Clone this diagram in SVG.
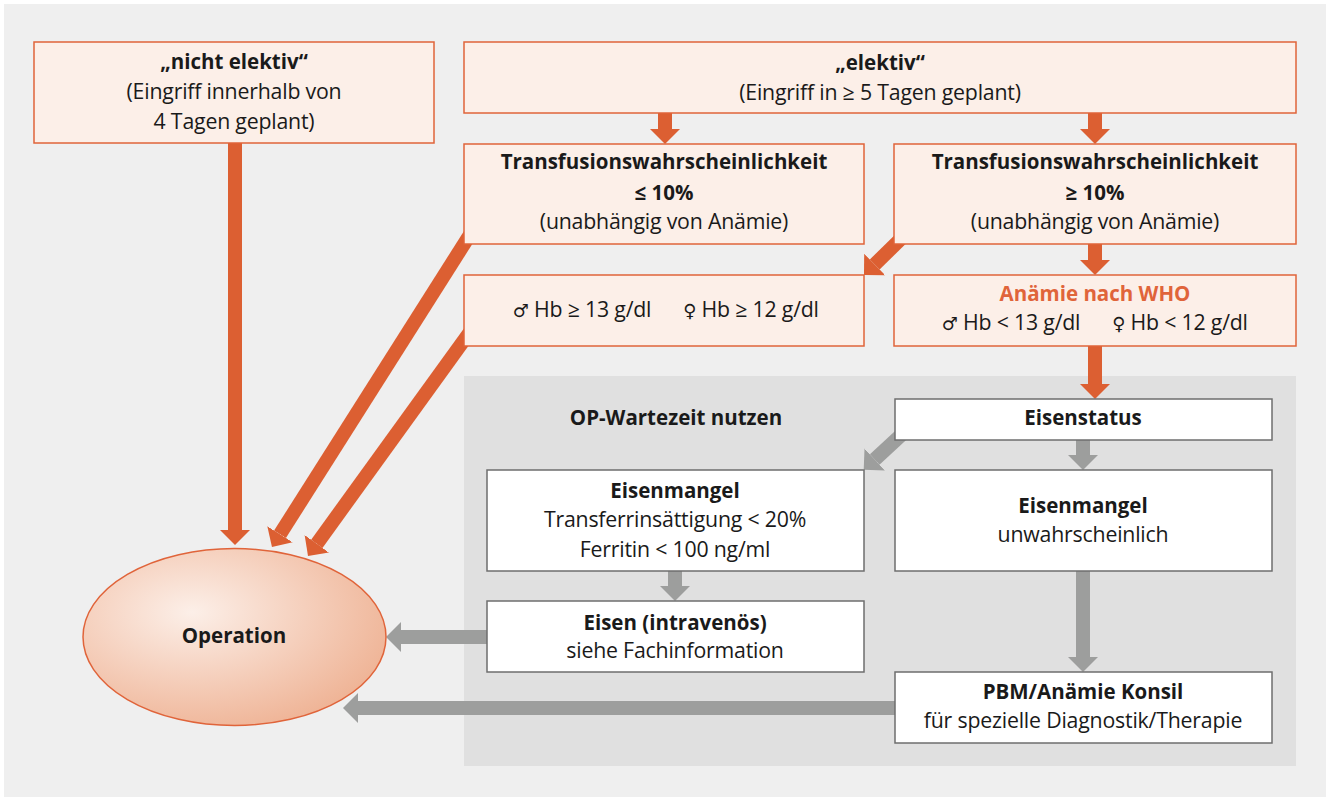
<svg xmlns="http://www.w3.org/2000/svg" width="1330" height="801" viewBox="0 0 1330 801">
<defs>
<style>
.ob{fill:#fcefe8;stroke:#e0643a;stroke-width:1.5}
.wb{fill:#ffffff;stroke:#6e6e6e;stroke-width:1.5}
text{font-family:"Open Sans","Noto Sans",sans-serif;font-size:21.3px;fill:#1a1a1a;text-anchor:middle;letter-spacing:-0.2px}
.b{font-weight:bold;font-size:20.5px;letter-spacing:0}
.or{fill:#e0643a}
.sym{font-family:"DejaVu Sans",sans-serif;font-size:18px}
.oa{stroke:#dc5f32;stroke-width:14;fill:none}
.ga{stroke:#9d9e9d;stroke-width:14;fill:none}
</style>
<marker id="ho" viewBox="0 -15 15 30" refX="0" refY="0" markerWidth="15" markerHeight="30" markerUnits="userSpaceOnUse" orient="auto"><path d="M0,-15 L15,0 L0,15 Z" fill="#dc5f32"/></marker>
<marker id="hg" viewBox="0 -15 15 30" refX="0" refY="0" markerWidth="15" markerHeight="30" markerUnits="userSpaceOnUse" orient="auto"><path d="M0,-15 L15,0 L0,15 Z" fill="#9d9e9d"/></marker>
<radialGradient id="opg" cx="0.36" cy="0.36" r="0.8">
<stop offset="0" stop-color="#fcefe8"/>
<stop offset="1" stop-color="#edab8a"/>
</radialGradient>
</defs>
<rect x="0" y="0" width="1330" height="801" fill="#ffffff"/>
<rect x="4" y="4" width="1322" height="793" fill="#efefef"/>
<g id="panel">
<rect x="464" y="376" width="832" height="390" fill="#e0e0e0"/>
<text class="b" x="676" y="425">OP-Wartezeit nutzen</text>
</g>
<g id="connectors">
<line class="oa" x1="235" y1="143" x2="235" y2="530" marker-end="url(#ho)"/>
<line class="oa" x1="665" y1="113" x2="665" y2="129" marker-end="url(#ho)"/>
<line class="oa" x1="1095" y1="113" x2="1095" y2="129" marker-end="url(#ho)"/>
<line class="oa" x1="1095" y1="244" x2="1095" y2="260" marker-end="url(#ho)"/>
<line class="oa" x1="1095" y1="346" x2="1095" y2="384" marker-end="url(#ho)"/>
<line class="oa" x1="478" y1="222" x2="280" y2="534.3" marker-end="url(#ho)"/>
<line class="oa" x1="475" y1="325" x2="316.8" y2="543.8" marker-end="url(#ho)"/>
<line class="oa" x1="915" y1="225" x2="874.7" y2="264.5" marker-end="url(#ho)"/>
<line class="ga" x1="912" y1="425" x2="874.7" y2="459.5" marker-end="url(#hg)"/>
<line class="ga" x1="1083" y1="440" x2="1083" y2="455" marker-end="url(#hg)"/>
<line class="ga" x1="675" y1="571" x2="675" y2="586" marker-end="url(#hg)"/>
<line class="ga" x1="1083" y1="571" x2="1083" y2="657" marker-end="url(#hg)"/>
<line class="ga" x1="487" y1="637" x2="401" y2="637" marker-end="url(#hg)"/>
<line class="ga" x1="895" y1="708" x2="358" y2="708" marker-end="url(#hg)"/>
</g>
<g id="n-nichtelektiv">
<rect class="ob" x="34" y="42" width="400" height="101"/>
<text class="b" x="234" y="69">„nicht elektiv“</text>
<text x="234" y="99">(Eingriff innerhalb von</text>
<text x="234" y="129">4 Tagen geplant)</text>
</g>
<g id="n-elektiv">
<rect class="ob" x="464" y="42" width="832" height="71"/>
<text class="b" x="880" y="70">„elektiv“</text>
<text x="880" y="100">(Eingriff in ≥ 5 Tagen geplant)</text>
</g>
<g id="n-trans-le">
<rect class="ob" x="464" y="144" width="400" height="100"/>
<text class="b" x="664" y="169">Transfusionswahrscheinlichkeit</text>
<text class="b" x="664" y="200">≤ 10%</text>
<text x="664" y="229">(unabhängig von Anämie)</text>
</g>
<g id="n-trans-ge">
<rect class="ob" x="894" y="144" width="402" height="100"/>
<text class="b" x="1095" y="169">Transfusionswahrscheinlichkeit</text>
<text class="b" x="1095" y="200">≥ 10%</text>
<text x="1095" y="229">(unabhängig von Anämie)</text>
</g>
<g id="n-hb-normal">
<rect class="ob" x="464" y="275" width="400" height="71"/>
<text x="582" y="317"><tspan class="sym">♂</tspan> Hb ≥ 13 g/dl</text>
<text x="751" y="317"><tspan class="sym">♀</tspan> Hb ≥ 12 g/dl</text>
</g>
<g id="n-anaemie">
<rect class="ob" x="894" y="275" width="402" height="71"/>
<text class="b or" x="1095" y="301">Anämie nach WHO</text>
<text x="1011" y="330"><tspan class="sym">♂</tspan> Hb &lt; 13 g/dl</text>
<text x="1180" y="330"><tspan class="sym">♀</tspan> Hb &lt; 12 g/dl</text>
</g>
<g id="n-eisenstatus">
<rect class="wb" x="895" y="399" width="377" height="41"/>
<text class="b" x="1083" y="425">Eisenstatus</text>
</g>
<g id="n-eisenmangel">
<rect class="wb" x="487" y="470" width="377" height="101"/>
<text class="b" x="675" y="498">Eisenmangel</text>
<text x="675" y="527">Transferrinsättigung &lt; 20%</text>
<text x="675" y="557">Ferritin &lt; 100 ng/ml</text>
</g>
<g id="n-eisenmangel-unw">
<rect class="wb" x="895" y="470" width="377" height="101"/>
<text class="b" x="1083" y="513">Eisenmangel</text>
<text x="1083" y="542">unwahrscheinlich</text>
</g>
<g id="n-eisen-iv">
<rect class="wb" x="487" y="601" width="377" height="71"/>
<text class="b" x="675" y="630">Eisen (intravenös)</text>
<text x="675" y="658">siehe Fachinformation</text>
</g>
<g id="n-pbm">
<rect class="wb" x="895" y="672" width="377" height="71"/>
<text class="b" x="1083" y="699">PBM/Anämie Konsil</text>
<text x="1083" y="728">für spezielle Diagnostik/Therapie</text>
</g>
<g id="n-operation">
<ellipse cx="234.5" cy="637" rx="151.5" ry="88.5" fill="url(#opg)" stroke="#e0643a" stroke-width="1.5"/>
<text class="b" x="234" y="643">Operation</text>
</g>
</svg>
